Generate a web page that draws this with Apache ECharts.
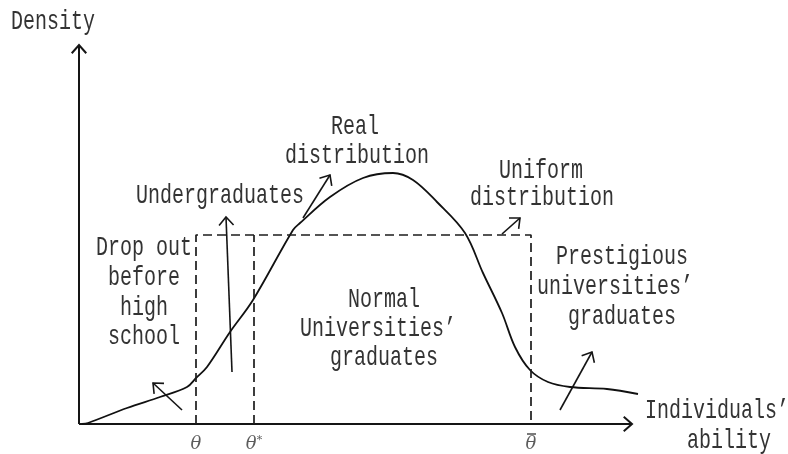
<!DOCTYPE html>
<html>
<head>
<meta charset="utf-8">
<script src="https://cdn.jsdelivr.net/npm/echarts@6/dist/echarts.min.js"></script>
<style>html,body{margin:0;padding:0;background:#fff}#c{width:788px;height:454px}</style>
</head>
<body>
<div id="c"></div>
<script>
// Real distribution curve (ability, density)
const abilityPts = [0.06, 0.18, 0.96, 1.62, 2.16, 2.34, 2.56, 3.02, 3.48, 4.28, 4.42, 5.02, 5.68, 6.28, 6.68, 7.16, 7.72, 8.08, 8.46, 8.72, 9.02, 9.38, 9.82, 10.56, 11.18];
const densityPts = [0, 0.025, 0.4, 0.675, 0.925, 1.15, 1.425, 2.3, 3.1, 4.85, 5.025, 5.675, 6.15, 6.275, 6.1, 5.55, 4.775, 3.775, 2.775, 1.925, 1.35, 1.05, 0.925, 0.875, 0.75];
// Thresholds on the ability axis
const thetaTicks = [2.34, 3.5, 9.04];
const thetaNames = ['theta', 'thetaStar', 'thetaBar'];
// Uniform distribution density level
const uniformLevel = 4.725;
// Axis extents
const axisXEnd = 11.06;
const axisYEnd = 9.475;
// Annotation arrows: tail -> head
const arrowTailX = [2.06, 3.06, 4.48, 8.46, 9.62];
const arrowTailY = [0.35, 1.3, 5.15, 4.75, 0.35];
const arrowHeadX = [1.48, 2.94, 5.02, 8.82, 10.26];
const arrowHeadY = [1.025, 5.175, 6.225, 5.15, 1.8];

const FONT = 'Liberation Mono';
const TXT = '#333';
function label(text, x, y, align) {
  return {
    type: 'text', x: x, y: y, scaleY: 1.4,
    style: { text: text, fill: TXT, font: '20px "' + FONT + '"', textAlign: align || 'center', textVerticalAlign: 'middle' }
  };
}

const chart = echarts.init(document.getElementById('c'));

function arrowItem(params, api) {
  const p1 = api.coord([api.value(0), api.value(1)]);
  const p2 = api.coord([api.value(2), api.value(3)]);
  const w = api.value(4);
  const ang = Math.atan2(p2[1] - p1[1], p2[0] - p1[0]);
  const L = 11, a = 0.72;
  const h1 = [p2[0] - L * Math.cos(ang - a), p2[1] - L * Math.sin(ang - a)];
  const h2 = [p2[0] - L * Math.cos(ang + a), p2[1] - L * Math.sin(ang + a)];
  const st = { stroke: '#151515', lineWidth: w, fill: null };
  return {
    type: 'group',
    children: [
      { type: 'line', shape: { x1: p1[0], y1: p1[1], x2: p2[0], y2: p2[1] }, style: st },
      { type: 'polyline', shape: { points: [h1, p2, h2] }, style: st }
    ]
  };
}

// macron over the theta-bar label
function barItem(params, api) {
  const p = api.coord([api.value(0), 0]);
  return { type: 'line', shape: { x1: p[0] - 4, y1: p[1] + 10, x2: p[0] + 5, y2: p[1] + 10 }, style: { stroke: TXT, lineWidth: 1.3 } };
}

const axisArrows = [[0, 0, axisXEnd, 0, 2], [0, 0, 0, axisYEnd, 2]];
const noteArrows = arrowTailX.map((x, i) => [x, arrowTailY[i], arrowHeadX[i], arrowHeadY[i], 1.6]);

const thetaLabelData = thetaTicks.map((t, i) => {
  let fmt = '{a|θ}';
  if (thetaNames[i] === 'thetaStar') fmt = '{a|θ}{s|*}';
  return { value: [t, 0], label: { formatter: fmt } };
});

chart.setOption({
  animation: false,
  backgroundColor: '#fff',
  grid: { left: 79, top: 44, width: 600, height: 380 },
  xAxis: { type: 'value', min: 0, max: 12, show: false },
  yAxis: { type: 'value', min: 0, max: 9.5, show: false },
  series: [
    {
      type: 'line', data: abilityPts.map((x, i) => [x, densityPts[i]]),
      smooth: 0.35, symbol: 'none', clip: false,
      lineStyle: { color: '#111', width: 1.8 }
    },
    {
      type: 'line',
      data: [[thetaTicks[0], 0], [thetaTicks[0], uniformLevel], [thetaTicks[2], uniformLevel], [thetaTicks[2], 0]],
      symbol: 'none', clip: false,
      lineStyle: { color: '#1c1c1c', width: 1.7, type: [9, 5] }
    },
    {
      type: 'line',
      data: [[thetaTicks[1], 0], [thetaTicks[1], uniformLevel]],
      symbol: 'none', clip: false,
      lineStyle: { color: '#1c1c1c', width: 1.7, type: [9, 5] }
    },
    {
      type: 'custom', renderItem: arrowItem, data: axisArrows.concat(noteArrows),
      encode: { x: [0, 2], y: [1, 3] }, clip: false, silent: true
    },
    {
      type: 'custom', renderItem: barItem,
      data: thetaTicks.filter((t, i) => thetaNames[i] === 'thetaBar').map(t => [t, 0]),
      encode: { x: 0, y: 1 }, clip: false, silent: true
    },
    {
      type: 'scatter', data: thetaLabelData, symbolSize: 0.1,
      itemStyle: { color: 'rgba(0,0,0,0)' },
      label: {
        show: true, position: 'bottom', distance: 11, color: TXT,
        rich: {
          a: { fontFamily: 'DejaVu Serif', fontStyle: 'italic', fontSize: 18, color: TXT },
          s: { fontFamily: 'DejaVu Serif', fontSize: 11, color: TXT, verticalAlign: 'top' }
        }
      }
    }
  ],
  graphic: [
    label('Density', 11, 22, 'left'),
    label('Real', 355, 127),
    label('distribution', 357, 156),
    label('Undergraduates', 220, 196),
    label('Drop out', 144, 248),
    label('before', 144, 278),
    label('high', 144, 308),
    label('school', 144, 337),
    label('Uniform', 541, 171),
    label('distribution', 542, 198),
    label('Prestigious', 622, 257),
    label('universities’', 615, 287),
    label('graduates', 622, 317),
    label('Normal', 384, 300),
    label('Universities’', 378, 329),
    label('graduates', 384, 358),
    label('Individuals’', 717, 411),
    label('ability', 729, 441)
  ]
});
</script>
</body>
</html>
